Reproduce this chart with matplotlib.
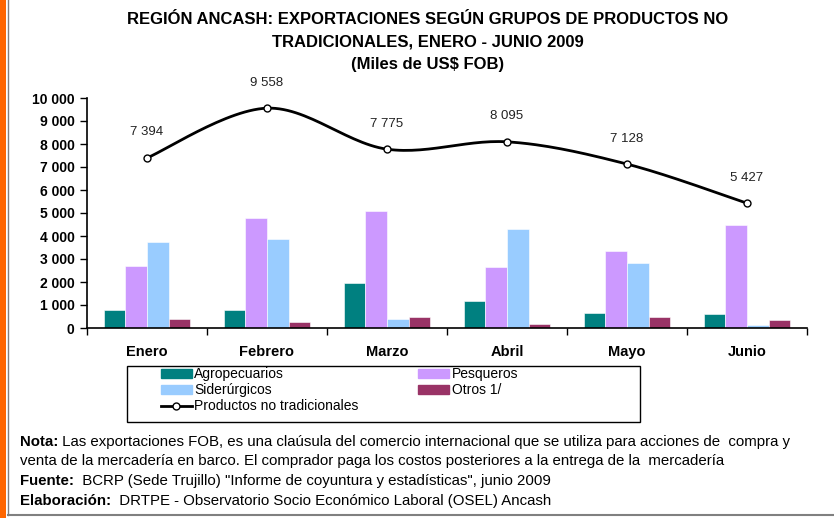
import matplotlib.pyplot as plt
import numpy as np
from matplotlib.patches import Rectangle, Patch
from matplotlib.lines import Line2D
from matplotlib.text import Annotation

plt.rcParams['font.family'] = ['Liberation Sans', 'DejaVu Sans']

meses = ['Enero', 'Febrero', 'Marzo', 'Abril', 'Mayo', 'Junio']
agropecuarios = [780, 780, 1940, 1170, 640, 590]
pesqueros = [2690, 4770, 5090, 2640, 3330, 4490]
siderurgicos = [3740, 3850, 380, 4300, 2810, 130]
otros = [380, 260, 490, 170, 480, 360]
no_tradicionales = [7394, 9558, 7775, 8095, 7128, 5427]

series = [
    ('Agropecuarios', agropecuarios, '#008080'),
    ('Pesqueros', pesqueros, '#CC99FF'),
    ('Siderúrgicos', siderurgicos, '#99CCFF'),
    ('Otros 1/', otros, '#993366'),
]

W, H = 834, 518
fig = plt.figure(figsize=(W / 100, H / 100), dpi=100)

# marco de la imagen
fig.add_artist(Rectangle((0, 0), 6 / W, 1, transform=fig.transFigure,
                         color='#FF6600', lw=0))
fig.add_artist(Line2D([7.5 / W, 7.5 / W], [3 / H, 1], transform=fig.transFigure,
                      color='#808080', lw=1))
fig.add_artist(Line2D([7.5 / W, 1], [3 / H, 3 / H], transform=fig.transFigure,
                      color='#808080', lw=1.5))

ax = fig.add_axes([87 / W, 1 - 328 / H, 720 / W, 230 / H])

x = np.arange(len(meses))
w = 0.18
for i, (nombre, vals, col) in enumerate(series):
    ax.bar(x + (i - 1.5) * w, vals, w, color=col, edgecolor='white', linewidth=0.4,
           label=nombre, zorder=2)

# linea suavizada (tipo Excel) a partir de los puntos
def suavizar(xs, ys, n=30):
    px = np.concatenate([[xs[0]], xs, [xs[-1]]])
    py = np.concatenate([[ys[0]], ys, [ys[-1]]])
    ox, oy = [], []
    for k in range(1, len(px) - 2):
        p0, p1, p2, p3 = [np.array([px[j], py[j]]) for j in range(k - 1, k + 3)]
        c1 = p1 + (p2 - p0) / 6
        c2 = p2 - (p3 - p1) / 6
        t = np.linspace(0, 1, n)[:, None]
        b = (1 - t) ** 3 * p1 + 3 * (1 - t) ** 2 * t * c1 + 3 * (1 - t) * t ** 2 * c2 + t ** 3 * p2
        ox.extend(b[:, 0]); oy.extend(b[:, 1])
    return ox, oy

sx, sy = suavizar(x.astype(float), np.array(no_tradicionales, dtype=float))
ax.plot(sx, sy, color='black', lw=2, zorder=3, clip_on=False)
ax.plot(x, no_tradicionales, 'o', ms=5, mfc='white', mec='black', mew=1, zorder=4,
        clip_on=False)
for xi, v in zip(x, no_tradicionales):
    ax.annotate(f'{v:,}'.replace(',', ' '), (xi, v), xytext=(0, 14),
                textcoords='offset points', ha='center', va='bottom', fontsize=9.5,
                color='#222222', annotation_clip=False)

ax.set_xlim(-0.5, len(meses) - 0.5)
ax.set_ylim(0, 10000)
ax.set_yticks(range(0, 10001, 1000))
ax.set_yticklabels([f'{v:,}'.replace(',', ' ') for v in range(0, 10001, 1000)],
                   fontsize=10, fontweight='bold')
ax.set_xticks(x)
ax.set_xticklabels(meses, fontsize=10.5, fontweight='bold')
ax.set_xticks(np.arange(-0.5, len(meses), 1), minor=True)
ax.tick_params(axis='x', which='major', length=0, pad=12)
ax.tick_params(axis='x', which='minor', length=5, width=1)
ax.tick_params(axis='y', length=5, width=1, pad=4)
for s in ['top', 'right']:
    ax.spines[s].set_visible(False)
ax.spines['left'].set_linewidth(1.2)
ax.spines['bottom'].set_linewidth(1.2)

titulo = ['REGIÓN ANCASH: EXPORTACIONES SEGÚN GRUPOS DE PRODUCTOS NO',
          'TRADICIONALES, ENERO - JUNIO 2009',
          '(Miles de US$ FOB)']
for linea, yy in zip(titulo, [20, 42, 64]):
    fig.text(0.513, 1 - yy / H, linea, ha='center', va='center', fontsize=12,
             fontweight='bold')

# leyenda
fig.add_artist(Rectangle((127 / W, 1 - 422 / H), 513 / W, 56 / H, transform=fig.transFigure,
                         fill=False, ec='black', lw=1))
h = [Patch(color=c) for _, _, c in series]
hl = Line2D([], [], color='black', lw=2, marker='o', ms=5, mfc='white', mec='black')
handles = [h[0], h[2], hl, h[1], h[3]]
labels = ['Agropecuarios', 'Siderúrgicos', 'Productos no tradicionales', 'Pesqueros', 'Otros 1/']
fig.legend(handles, labels, loc='upper left', bbox_to_anchor=(161 / W, 1 - 367 / H),
           ncol=2, frameon=False, fontsize=10, handlelength=2.2, handleheight=0.6,
           handletextpad=0.2, labelspacing=0.15, columnspacing=4.3, borderpad=0,
           borderaxespad=0)

# notas
notas = [
    ('Nota:', ' Las exportaciones FOB, es una claúsula del comercio internacional que se utiliza para acciones de  compra y', 442),
    ('', 'venta de la mercadería en barco. El comprador paga los costos posteriores a la entrega de la  mercadería', 461),
    ('Fuente:', '  BCRP (Sede Trujillo) "Informe de coyuntura y estadísticas", junio 2009', 481),
    ('Elaboración:', '  DRTPE - Observatorio Socio Económico Laboral (OSEL) Ancash', 501),
]
for neg, resto, yy in notas:
    t = fig.text(20 / W, 1 - yy / H, neg, fontsize=10.8, fontweight='bold', va='center')
    fig.add_artist(Annotation(resto, xy=(1, 0.5), xycoords=t, va='center', fontsize=10.8))

fig.savefig('out.png', dpi=100)
